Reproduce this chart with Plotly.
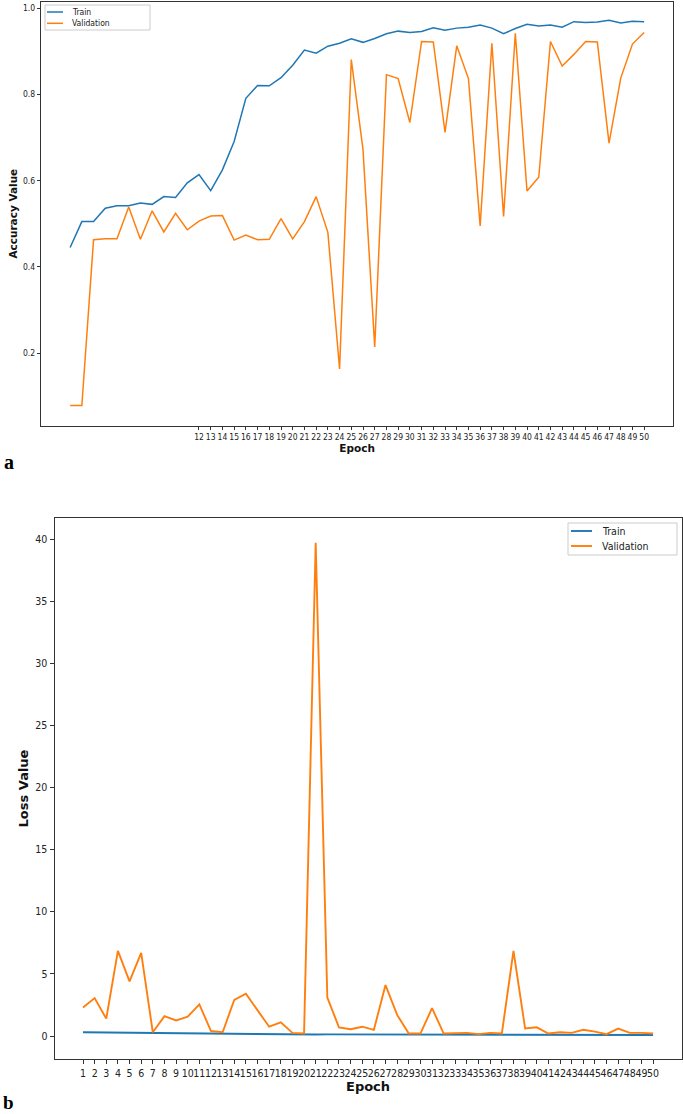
import plotly.graph_objects as go

W, H = 683, 1114

epochs = list(range(1, 51))

acc_train = [0.445, 0.505, 0.505, 0.536, 0.542, 0.542, 0.548, 0.545, 0.563, 0.561,
             0.595, 0.614, 0.577, 0.625, 0.691, 0.791, 0.821, 0.820, 0.839, 0.868,
             0.903, 0.896, 0.912, 0.919, 0.929, 0.921, 0.930, 0.941, 0.947, 0.944,
             0.946, 0.955, 0.949, 0.954, 0.956, 0.961, 0.954, 0.941, 0.953, 0.963,
             0.959, 0.961, 0.956, 0.969, 0.967, 0.968, 0.972, 0.966, 0.970, 0.969]

acc_val = [0.078, 0.078, 0.463, 0.465, 0.465, 0.539, 0.464, 0.530, 0.481, 0.524,
           0.486, 0.506, 0.518, 0.519, 0.462, 0.474, 0.463, 0.464, 0.512, 0.465,
           0.505, 0.563, 0.480, 0.163, 0.881, 0.672, 0.214, 0.846, 0.837, 0.735,
           0.923, 0.922, 0.712, 0.913, 0.837, 0.495, 0.919, 0.517, 0.942, 0.576,
           0.608, 0.923, 0.866, 0.893, 0.923, 0.922, 0.687, 0.838, 0.917, 0.944]

loss_train = [0.30, 0.29, 0.27, 0.25, 0.24, 0.24, 0.22, 0.21, 0.20, 0.20,
              0.19, 0.18, 0.17, 0.17, 0.16, 0.15, 0.16, 0.15, 0.14, 0.13,
              0.12, 0.13, 0.13, 0.12, 0.13, 0.12, 0.11, 0.13, 0.12, 0.11,
              0.11, 0.11, 0.10, 0.10, 0.10, 0.10, 0.10, 0.09, 0.09, 0.09,
              0.09, 0.09, 0.09, 0.09, 0.08, 0.08, 0.08, 0.08, 0.08, 0.08]

loss_val = [2.30, 3.05, 1.40, 6.85, 4.40, 6.70, 0.30, 1.60, 1.25, 1.55,
            2.55, 0.40, 0.30, 2.90, 3.40, 2.10, 0.75, 1.10, 0.25, 0.20,
            39.70, 3.10, 0.70, 0.55, 0.75, 0.50, 4.10, 1.70, 0.20, 0.20,
            2.25, 0.20, 0.20, 0.25, 0.15, 0.25, 0.20, 6.85, 0.60, 0.70,
            0.20, 0.30, 0.25, 0.50, 0.35, 0.15, 0.60, 0.25, 0.25, 0.20]

acc_xticks = list(range(12, 51))
acc_yticks = [0.2, 0.4, 0.6, 0.8, 1.0]
loss_xticks = list(range(1, 51))
loss_yticks = [0, 5, 10, 15, 20, 25, 30, 35, 40]

BLUE = "#1f77b4"
ORANGE = "#ff7f0e"
TICKFONT = "DejaVu Sans Condensed, DejaVu Sans, sans-serif"
BOLDFONT = "DejaVu Sans, sans-serif"


def px(x):
    return x / W


def py(y):
    return 1 - y / H


fig = go.Figure()
fig.add_trace(go.Scatter(x=epochs, y=acc_train, mode="lines", name="Train",
                         line=dict(color=BLUE, width=1.5), xaxis="x", yaxis="y"))
fig.add_trace(go.Scatter(x=epochs, y=acc_val, mode="lines", name="Validation",
                         line=dict(color=ORANGE, width=1.5), xaxis="x", yaxis="y"))
fig.add_trace(go.Scatter(x=epochs, y=loss_train, mode="lines", name="Train",
                         line=dict(color=BLUE, width=1.9), xaxis="x2", yaxis="y2"))
fig.add_trace(go.Scatter(x=epochs, y=loss_val, mode="lines", name="Validation",
                         line=dict(color=ORANGE, width=1.9), xaxis="x2", yaxis="y2"))

axis_common = dict(showgrid=False, zeroline=False, showline=True, mirror=True,
                   linecolor="#333333", linewidth=1, ticks="outside",
                   tickcolor="#333333", tickwidth=1, tickangle=0)

fig.update_layout(
    width=W, height=H,
    margin=dict(l=0, r=0, t=0, b=0),
    paper_bgcolor="white", plot_bgcolor="white",
    showlegend=False,
    xaxis=dict(domain=[px(41.3), px(673)], range=[-1.46, 52.46],
               tickvals=acc_xticks, ticktext=[str(v) for v in acc_xticks],
               ticklen=3.5, tickfont=dict(family=TICKFONT, size=8.5, color="#222"),
               title=dict(text="Epoch", font=dict(family=BOLDFONT, size=10.5, color="#111",
                                                  weight="bold"), standoff=2),
               anchor="y", **axis_common),
    yaxis=dict(domain=[py(425.7), py(1.7)], range=[0.0314, 1.0153],
               tickvals=acc_yticks, ticktext=["0.2", "0.4", "0.6", "0.8", "1.0"],
               ticklen=3.5, tickfont=dict(family=TICKFONT, size=8.5, color="#222"),
               title=dict(text="Accuracy Value", font=dict(family=BOLDFONT, size=10.5,
                                                           color="#111", weight="bold"),
                          standoff=3),
               anchor="x", **axis_common),
    xaxis2=dict(domain=[px(54.5), px(681.6)], range=[-1.45, 52.45],
                tickvals=loss_xticks, ticktext=[str(v) for v in loss_xticks],
                ticklen=4, tickfont=dict(family=TICKFONT, size=10.5, color="#222"),
                title=dict(text="Epoch", font=dict(family=BOLDFONT, size=13, color="#111",
                                                   weight="bold"), standoff=2),
                anchor="y2", **axis_common),
    yaxis2=dict(domain=[py(1059), py(518)], range=[-1.85, 41.7],
                tickvals=loss_yticks, ticktext=[str(v) for v in loss_yticks],
                ticklen=4, tickfont=dict(family=TICKFONT, size=10.5, color="#222"),
                title=dict(text="Loss Value", font=dict(family=BOLDFONT, size=13,
                                                        color="#111", weight="bold"),
                           standoff=3),
                anchor="x2", **axis_common),
)

shapes = []
annotations = []


def add_legend(x0, y0, x1, y1, line_x0, line_x1, text_x, rows, font_size, lw):
    shapes.append(dict(type="rect", xref="paper", yref="paper",
                       x0=px(x0), x1=px(x1), y0=py(y1), y1=py(y0),
                       line=dict(color="#cccccc", width=1), fillcolor="rgba(255,255,255,0.8)",
                       layer="above"))
    for (ry, color, label) in rows:
        shapes.append(dict(type="line", xref="paper", yref="paper",
                           x0=px(line_x0), x1=px(line_x1), y0=py(ry), y1=py(ry),
                           line=dict(color=color, width=lw), layer="above"))
        annotations.append(dict(xref="paper", yref="paper", x=px(text_x), y=py(ry),
                                xanchor="left", yanchor="middle", showarrow=False,
                                text=label, font=dict(family=TICKFONT, size=font_size,
                                                      color="#222")))


add_legend(45, 5, 150, 30, 47, 63, 70,
           [(12, BLUE, "Train"), (23.3, ORANGE, "Validation")], 8.5, 1.5)
add_legend(568, 523, 677, 555, 571, 592, 600,
           [(531, BLUE, "Train"), (546, ORANGE, "Validation")], 10.5, 1.9)

annotations.append(dict(xref="paper", yref="paper", x=px(2), y=py(462),
                        xanchor="left", yanchor="middle", showarrow=False, text="<b>a</b>",
                        font=dict(family="Liberation Serif, serif", size=20, color="black")))
annotations.append(dict(xref="paper", yref="paper", x=px(1), y=py(1102),
                        xanchor="left", yanchor="middle", showarrow=False, text="<b>b</b>",
                        font=dict(family="Liberation Serif, serif", size=19, color="black")))

fig.update_layout(shapes=shapes, annotations=annotations)

fig.write_html("out.html",
               config={"displayModeBar": False},
               post_script="document.body.style.margin='0px';document.body.style.overflow='hidden';")
